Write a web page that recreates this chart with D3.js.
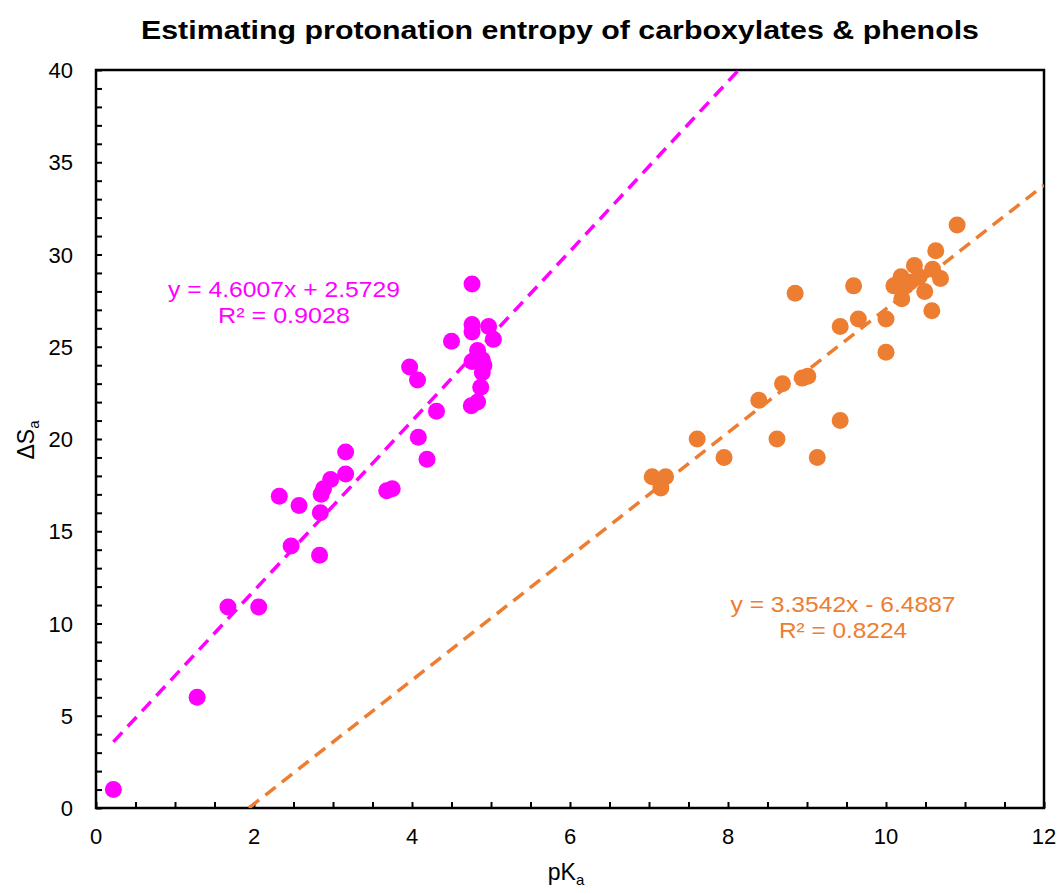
<!DOCTYPE html>
<html>
<head>
<meta charset="utf-8">
<script src="https://cdn.jsdelivr.net/npm/d3@7"></script>
<style>
  body { margin: 0; background: #fff; }
  text { font-family: "Liberation Sans", Arial, sans-serif; }
</style>
</head>
<body>
<svg id="chart"></svg>
<script>
// Carboxylic acids (magenta) - pKa values
const acidPka = [0.22, 1.28, 1.67, 2.06, 2.32, 2.47, 2.57, 2.83, 2.84, 2.85, 2.88, 2.97, 3.16, 3.16,
  3.68, 3.75, 3.97, 4.07, 4.08, 4.19, 4.31, 4.50, 4.75, 4.76, 4.76, 4.76, 4.76, 4.83, 4.83,
  4.87, 4.89, 4.89, 4.91, 4.97, 5.03];
// Carboxylic acids - entropy values
const acidDS = [1.0, 6.0, 10.9, 10.9, 16.9, 14.2, 16.4, 13.7, 16.0, 17.0, 17.3, 17.8, 19.3, 18.1,
  17.2, 17.3, 23.9, 23.2, 20.1, 18.9, 21.5, 25.3, 21.8, 28.4, 26.2, 25.8, 24.2, 24.8, 22.0,
  22.8, 24.3, 23.6, 24.0, 26.1, 25.4];

// Phenols (orange)
const phenolPka = [7.04, 7.21, 7.15, 7.61, 7.95, 8.39, 8.62, 8.69, 8.85, 8.94, 9.01, 9.13, 9.42, 9.42,
  9.59, 9.65, 10.0, 10.0, 10.10, 10.19, 10.20, 10.25, 10.30, 10.36, 10.42, 10.49, 10.58, 10.59,
  10.63, 10.69, 10.90];
const phenolDS = [17.95, 17.95, 17.35, 20.0, 19.0, 22.1, 20.0, 23.0, 27.9, 23.3, 23.4, 19.0, 26.1, 21.0,
  28.3, 26.5, 26.5, 24.7, 28.3, 28.8, 27.6, 28.3, 28.5, 29.4, 28.8, 28.0, 26.95, 29.2,
  30.2, 28.7, 31.6];

// Trendlines: slope, intercept
const acidFit = { slope: 4.6007, intercept: 2.5729, label: 'y = 4.6007x + 2.5729', r2: 'R² = 0.9028' };
const phenolFit = { slope: 3.3542, intercept: -6.4887, label: 'y = 3.3542x - 6.4887', r2: 'R² = 0.8224' };

const xTicks = [0, 2, 4, 6, 8, 10, 12];
const yTicks = [0, 5, 10, 15, 20, 25, 30, 35, 40];

const W = 1060, H = 894;
const M = { left: 96, right: 1044, top: 70, bottom: 808 };
const MAGENTA = '#FF00FF', ORANGE = '#ED7D31';

const svg = d3.select('#chart').attr('width', W).attr('height', H);

const x = d3.scaleLinear().domain([0, 12]).range([M.left, M.right]);
const y = d3.scaleLinear().domain([0, 40]).range([M.bottom, M.top]);

svg.append('clipPath').attr('id', 'plot-clip')
  .append('rect')
  .attr('x', M.left).attr('y', M.top)
  .attr('width', M.right - M.left).attr('height', M.bottom - M.top);

// Title
svg.append('text')
  .attr('x', 560).attr('y', 39)
  .attr('text-anchor', 'middle')
  .style('font-size', '26px').style('font-weight', 'bold')
  .attr('textLength', 838).attr('lengthAdjust', 'spacingAndGlyphs')
  .text('Estimating protonation entropy of carboxylates & phenols');

// Inward minor ticks
const xAxis = d3.axisTop(x).tickValues(d3.range(0, 12.01, 0.5)).tickSize(6).tickFormat('');
svg.append('g').attr('transform', `translate(0,${M.bottom})`).call(xAxis)
  .call(g => g.select('.domain').remove())
  .selectAll('line').attr('stroke', '#000').attr('stroke-width', 2);

const yAxis = d3.axisRight(y).tickValues(d3.range(0, 40.01, 1)).tickSize(6).tickFormat('');
svg.append('g').attr('transform', `translate(${M.left},0)`).call(yAxis)
  .call(g => g.select('.domain').remove())
  .selectAll('line').attr('stroke', '#000').attr('stroke-width', 2);

// Tick labels
svg.append('g').selectAll('text').data(xTicks).join('text')
  .attr('x', d => x(d)).attr('y', M.bottom + 36)
  .attr('text-anchor', 'middle').style('font-size', '22px')
  .text(d => d);

svg.append('g').selectAll('text').data(yTicks).join('text')
  .attr('x', M.left - 23).attr('y', d => y(d) + 8)
  .attr('text-anchor', 'end').style('font-size', '22px')
  .text(d => d);

// Axis titles
const xt = svg.append('text').attr('x', 566).attr('y', 880)
  .attr('text-anchor', 'middle').style('font-size', '23px');
xt.append('tspan').text('pK');
xt.append('tspan').attr('dy', 5).style('font-size', '15px').text('a');

const yt = svg.append('text')
  .attr('transform', 'translate(34,440) rotate(-90)')
  .attr('text-anchor', 'middle').style('font-size', '23px');
yt.append('tspan').text('ΔS');
yt.append('tspan').attr('dy', 5).style('font-size', '15px').text('a');

// Frame
svg.append('rect')
  .attr('x', M.left).attr('y', M.top)
  .attr('width', M.right - M.left).attr('height', M.bottom - M.top)
  .attr('fill', 'none').attr('stroke', '#000').attr('stroke-width', 2.5);

const plot = svg.append('g').attr('clip-path', 'url(#plot-clip)');

// Trendlines
function fitLine(fit, x0, x1, color) {
  plot.append('line')
    .attr('x1', x(x0)).attr('y1', y(fit.slope * x0 + fit.intercept))
    .attr('x2', x(x1)).attr('y2', y(fit.slope * x1 + fit.intercept))
    .attr('stroke', color).attr('stroke-width', 3.5)
    .attr('stroke-dasharray', '13,8');
}
fitLine(acidFit, d3.min(acidPka), 12, MAGENTA);
fitLine(phenolFit, -phenolFit.intercept / phenolFit.slope, 12, ORANGE);

// Points
plot.append('g').selectAll('circle').data(d3.zip(acidPka, acidDS)).join('circle')
  .attr('cx', d => x(d[0])).attr('cy', d => y(d[1])).attr('r', 8.5)
  .attr('fill', MAGENTA);

plot.append('g').selectAll('circle').data(d3.zip(phenolPka, phenolDS)).join('circle')
  .attr('cx', d => x(d[0])).attr('cy', d => y(d[1])).attr('r', 8.5)
  .attr('fill', ORANGE);

// Equation labels
function eqLabel(fit, cx, cy, w1, w2, color) {
  svg.append('text').attr('x', cx).attr('y', cy).attr('text-anchor', 'middle')
    .style('font-size', '22px').attr('fill', color)
    .attr('textLength', w1).attr('lengthAdjust', 'spacingAndGlyphs').text(fit.label);
  svg.append('text').attr('x', cx).attr('y', cy + 26).attr('text-anchor', 'middle')
    .style('font-size', '22px').attr('fill', color)
    .attr('textLength', w2).attr('lengthAdjust', 'spacingAndGlyphs').text(fit.r2);
}
eqLabel(acidFit, 284, 297, 232, 132, MAGENTA);
eqLabel(phenolFit, 843, 612, 225, 128, ORANGE);
</script>
</body>
</html>
